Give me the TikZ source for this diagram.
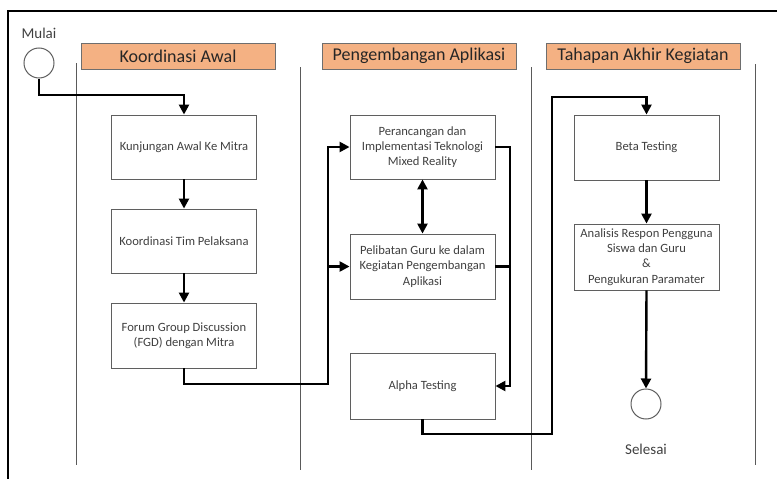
\documentclass[tikz,border=0pt]{standalone}
\usepackage{fontspec}
\setmainfont{Carlito}
\usetikzlibrary{arrows.meta}
\definecolor{hdrfill}{RGB}{244,177,131}
\definecolor{hdrdraw}{RGB}{110,110,110}
\definecolor{boxdraw}{RGB}{95,95,95}
\definecolor{txt}{RGB}{64,64,64}
\definecolor{lane}{RGB}{90,90,90}
\tikzset{
  hdr/.style={draw=hdrdraw,line width=1pt,fill=hdrfill,minimum width=194pt,minimum height=26pt,inner sep=0pt,font=\fontsize{18}{20}\selectfont,text=black!85},
  procbox/.style={draw=boxdraw,line width=0.9pt,minimum width=145pt,minimum height=64pt,inner sep=1pt,align=center,font=\fontsize{12.6}{15.3}\selectfont,text=txt},
  termcirc/.style={circle,draw=boxdraw,line width=1pt,minimum size=30pt,inner sep=0pt},
  lbl/.style={font=\fontsize{15}{17}\selectfont,text=txt},
  flow/.style={line width=2.4pt,-{Triangle[length=10pt,width=10pt]}},
  flowx/.style={line width=2.4pt},
  laneline/.style={draw=lane,line width=1pt},
  frameline/.style={draw=black,line width=1.6pt}
}
\begin{document}
\begin{tikzpicture}[x=1pt,y=-1pt]
\useasboundingbox (0,0) rectangle (777,479);
% frame
\draw[frameline] (8,479) -- (8,11) -- (777,11);
% lane lines
\draw[laneline] (76,63) -- (76,465);
\draw[laneline] (300,67) -- (300,470);
\draw[laneline] (531,67) -- (531,470);
\draw[laneline] (755,64) -- (755,465);
% headers
\node[hdr] (h1) at (178,56) {Koordinasi Awal};
\node[hdr] (h2) at (419,56) {Pengembangan Aplikasi};
\node[hdr] (h3) at (643,56) {Tahapan Akhir Kegiatan};
% start / end
\node[lbl] (mulai) at (39,33) {Mulai};
\node[termcirc] (start) at (39,63) {};
\node[termcirc] (end) at (646,404) {};
\node[lbl] (selesai) at (646,449) {Selesai};
% boxes
\node[procbox] (b1) at (184,147) {Kunjungan Awal Ke Mitra};
\node[procbox] (b2) at (184,241) {Koordinasi Tim Pelaksana};
\node[procbox,minimum height=65pt] (b3) at (184,335.5) {Forum Group Discussion\\(FGD) dengan Mitra};
\node[procbox] (p1) at (422.5,147) {Perancangan dan\\Implementasi Teknologi\\Mixed Reality};
\node[procbox,minimum height=65pt] (p2) at (422.5,266.5) {Pelibatan Guru ke dalam\\Kegiatan Pengembangan\\Aplikasi};
\node[procbox,minimum height=66pt] (alpha) at (422.5,386) {Alpha Testing};
\node[procbox,minimum height=65pt] (beta) at (646.5,147.5) {Beta Testing};
\node[procbox,minimum height=66pt] (anal) at (646.5,257) {Analisis Respon Pengguna\\Siswa dan Guru\\\&\\Pengukuran Paramater};
% junction coordinates
\coordinate (j1) at (184,95);
\coordinate (j2) at (328,384);
\coordinate (j3) at (510,386);
\coordinate (j4) at (552,434);
\coordinate (j5) at (552,97);
% connectors
\draw[flow] (start.south) |- (j1) -- (b1.north);
\draw[flow] (b1.south) -- (b2.north);
\draw[flow] (b2.south) -- (b3.north);
\draw[flow] (b3.south) |- (j2) |- (p1.west);
\draw[flow] (j2 |- p2.west) -- (p2.west);
\draw[line width=2.4pt,{Triangle[length=10pt,width=10pt]}-{Triangle[length=10pt,width=10pt]}] (p1.south) -- (p2.north);
\draw[flow] (p1.east) -| (j3) -- (alpha.east);
\draw[flowx] (p2.east) -- (j3 |- p2.east);
\draw[flow] (alpha.south) |- (j4) -- (j5) -| (beta.north);
\draw[flow] (beta.south) -- (anal.north);
\draw[flow] (anal.south) -- (end.north);
\end{tikzpicture}
\end{document}
